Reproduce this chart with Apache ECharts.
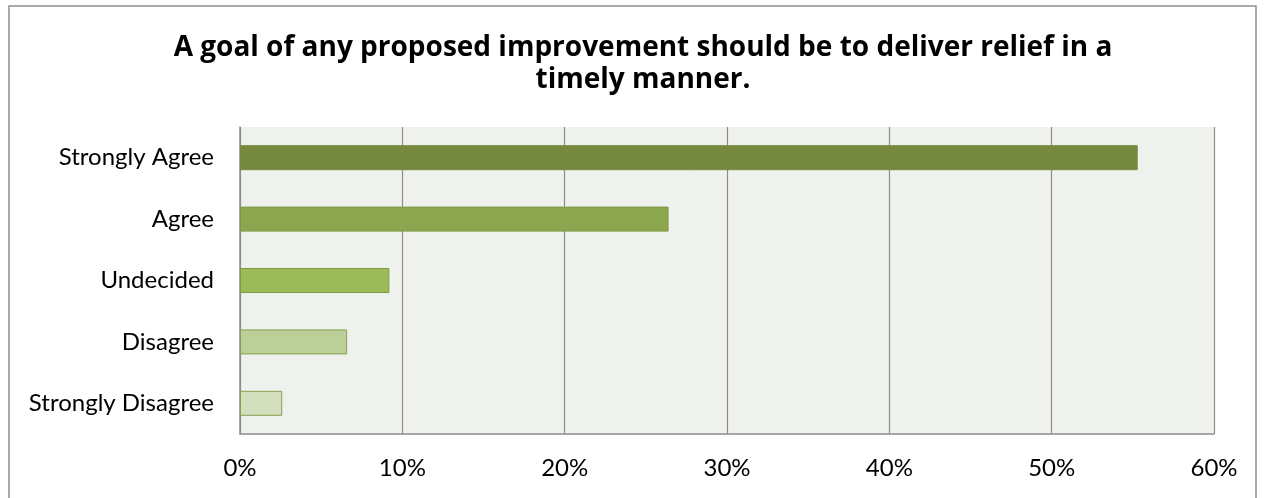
<!DOCTYPE html>
<html><head><meta charset="utf-8">
<script src="https://cdn.jsdelivr.net/npm/echarts@6/dist/echarts.min.js"></script>
<style>html,body{margin:0;padding:0;background:#fff}#c{width:1266px;height:498px}</style>
</head><body><div id="c"></div>
<script>
const categories = ['Strongly Agree','Agree','Undecided','Disagree','Strongly Disagree'];
const values = [55.3, 26.4, 9.2, 6.6, 2.6];
const barColors = ['#76893f','#8ba64f','#9bbb59','#bccf98','#d3dfbd'];
const borderColors = ['#76893f','#7f9a45','#7f9a45','#86a050','#86a050'];
const titleText = 'A goal of any proposed improvement should be to deliver relief in a\ntimely manner.';

const chart = echarts.init(document.getElementById('c'));
chart.setOption({
  animation:false,
  backgroundColor:'#fff',
  graphic:[{type:'rect',shape:{x:9,y:6,width:1247,height:500},style:{fill:'none',stroke:'#8f8f8f',lineWidth:1.5},silent:true}],
  title:{text:titleText,left:638,top:27,textAlign:'center',
    textStyle:{fontFamily:'Open Sans',fontWeight:'bold',fontSize:28,color:'#000',lineHeight:32}},
  grid:{left:240,right:52,top:127,bottom:64,show:true,backgroundColor:'#eff2ec',borderWidth:0},
  xAxis:{type:'value',min:0,max:60,interval:10,
    axisLabel:{formatter:'{value}%',fontFamily:'Lato',fontSize:24,color:'#000',margin:22},
    axisLine:{show:true,lineStyle:{color:'#8c8c8c',width:1.5}},axisTick:{show:false},
    splitLine:{show:true,lineStyle:{color:'#8c8c8c',width:1.2}}},
  yAxis:{type:'category',data:categories,inverse:true,
    axisLabel:{fontFamily:'Lato',fontSize:24,color:'#000',margin:26},
    axisLine:{show:true,lineStyle:{color:'#8c8c8c',width:1.5}},axisTick:{show:false}},
  series:[{type:'bar',barWidth:25,
    data:values.map((v,i)=>({value:v,itemStyle:{color:barColors[i],borderColor:borderColors[i],borderWidth:1}}))}]
});
</script>
</body></html>
